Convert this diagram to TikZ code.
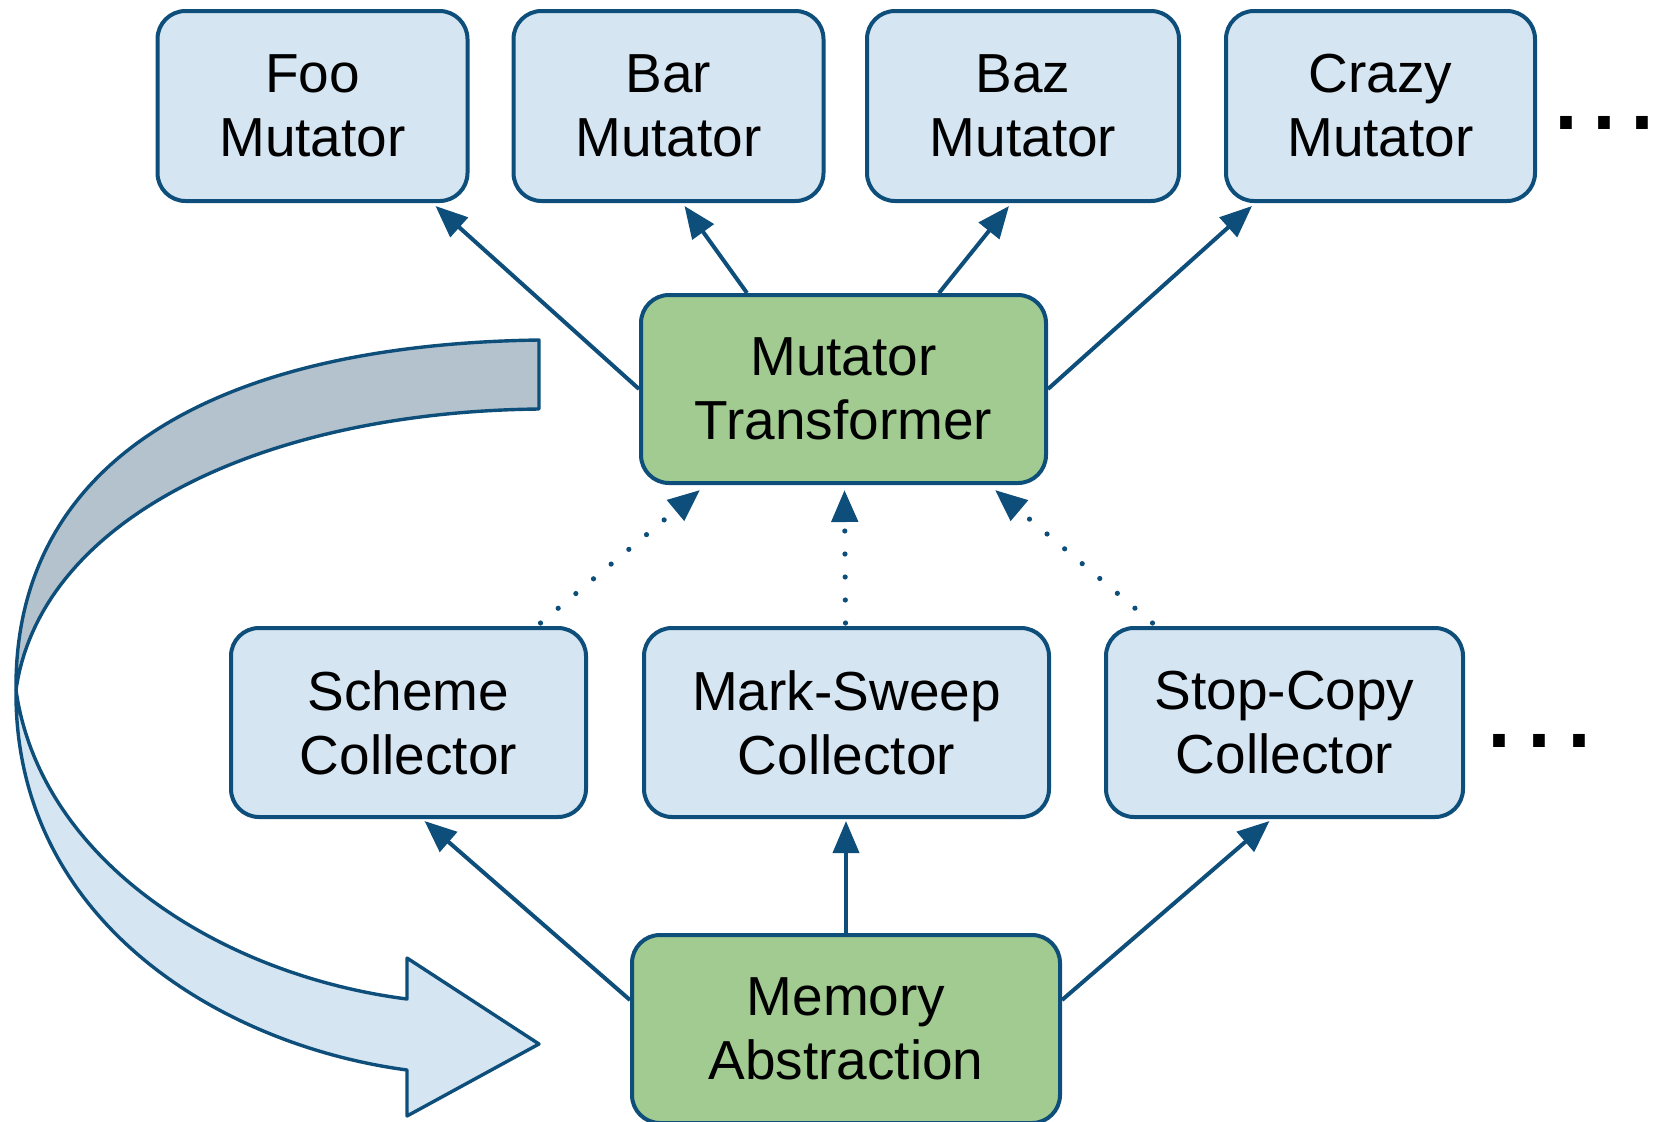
\documentclass[tikz,border=0pt]{standalone}
\usepackage{fontspec}
\setmainfont{Liberation Sans}
\usetikzlibrary{arrows.meta,calc}
\definecolor{linecol}{HTML}{0E4E7A}
\definecolor{lightblue}{HTML}{D5E5F2}
\definecolor{greenfill}{HTML}{A1CB90}
\definecolor{bandgray}{HTML}{B3C2CC}
\tikzset{
  box/.style={draw=linecol, line width=2pt, rounded corners=14pt, fill=lightblue,
    align=center, inner sep=0pt, font=\fontsize{27.5}{32}\selectfont},
  greenbox/.style={box, fill=greenfill},
  arr/.style={draw=linecol, line width=2pt, -{Triangle[length=16pt,width=13pt]}},
  dotarr/.style={arr, line width=2.6pt, line cap=round, dash pattern=on 0pt off 11.5pt},
  band/.style={draw=linecol, line width=1.7pt, line join=round},
  ellip/.style={inner sep=0pt, anchor=base west, font=\fontsize{61}{61}\selectfont}
}
\begin{document}
\begin{tikzpicture}[x=0.5pt, y=-0.5pt]
\useasboundingbox (0,0) rectangle (1662,1121);

% big curved arrow
\filldraw[band, fill=bandgray] (539,340) .. controls (200,345) and (14,470) .. (16,690)
  .. controls (40,520) and (260,412) .. (539,409) -- cycle;
\filldraw[band, fill=lightblue] (16,690) .. controls (14,920) and (220,1045) .. (407,1070)
  -- (407,1116) -- (539,1044) -- (407,958) -- (407,999)
  .. controls (220,975) and (40,860) .. (16,690) -- cycle;

% top row
\node[box, minimum width=155pt, minimum height=95pt] (foo) at (312.5,106) {Foo\\Mutator};
\node[box, minimum width=155pt, minimum height=95pt] (bar) at (668.5,106) {Bar\\Mutator};
\node[box, minimum width=156pt, minimum height=95pt] (baz) at (1023,106) {Baz\\Mutator};
\node[box, minimum width=154.5pt, minimum height=95pt] (crazy) at (1380.5,106) {Crazy\\Mutator};
\node[ellip] (dotsA) at (1549,129) {.\hspace{2pt}.\hspace{2pt}.};

% transformer
\node[greenbox, minimum width=202.5pt, minimum height=94pt] (mt) at (843.5,389) {Mutator\\Transformer};

% collectors
\node[box, minimum width=177.5pt, minimum height=94.5pt] (scheme) at (408.5,722.5) {Scheme\\Collector};
\node[box, minimum width=202.5pt, minimum height=94.5pt] (ms) at (846.5,722.5) {Mark-Sweep\\Collector};
\node[box, minimum width=178.5pt, minimum height=94.5pt] (sc) at (1284.5,722.5) {Stop-Copy\\Collector};
\node[ellip] (dotsB) at (1482,747) {.\hspace{3pt}.\hspace{3pt}.};

% memory abstraction
\node[greenbox, minimum width=214pt, minimum height=94pt] (ma) at (846,1029) {Memory\\Abstraction};

% solid arrows top
\draw[arr] (mt.west) -- ($(foo.south east)+(-34,3)$);
\draw[arr] ($(mt.north west)+(108,0)$) -- ($(bar.south)+(16,3)$);
\draw[arr] ($(mt.north west)+(300,0)$) -- ($(baz.south)+(-14,3)$);
\draw[arr] (mt.east) -- ($(crazy.south west)+(28,3)$);

% dotted arrows
\draw[dotarr] ($(scheme.north)+(132,-3)$) -- ($(mt.south west)+(61,5)$);
\draw[dotarr] ($(ms.north)+(-1,-3)$) -- ($(mt.south)+(1,5)$);
\draw[dotarr] ($(sc.north)+(-132,-3)$) -- ($(mt.south east)+(-53,5)$);

% bottom arrows
\draw[arr] ($(ma.north west)+(0,67)$) -- ($(scheme.south)+(16,2)$);
\draw[arr] (ma.north) -- ($(ms.south)+(-0.5,2)$);
\draw[arr] ($(ma.north east)+(0,67)$) -- ($(sc.south)+(-15,2)$);
\end{tikzpicture}
\end{document}
